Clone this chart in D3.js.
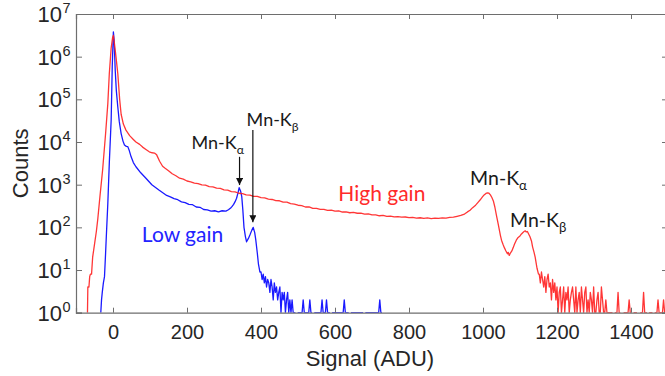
<!DOCTYPE html>
<html><head><meta charset="utf-8">
<script src="https://cdn.jsdelivr.net/npm/d3@7"></script>
<style>body{margin:0;background:#fff}svg{display:block}</style>
</head><body><svg id="c" width="665" height="376"></svg>
<script>
// ---- data ----
const xTicks = [0, 200, 400, 600, 800, 1000, 1200, 1400];
const yTickExps = [0, 1, 2, 3, 4, 5, 6, 7];

// High gain (red): smooth part, ADU and counts
const redAdu = [-69,-68,-65,-63,-61,-58,-55,-50,-45,-41,-35,-28,-20,-14,-10,-5,-1,1,4,8,13,18,22,28,35,45,55,62,72,80,90,98,106,112,118,126,134,140,
150,160,170,180,190,200,210,220,230,240,250,260,270,280,290,300,310,320,330,340,350,360,370,380,390,400,410,420,430,440,450,460,470,480,490,500,
510,520,530,540,550,560,570,580,590,600,610,620,630,640,650,660,670,680,690,700,710,720,730,740,750,760,770,780,790,800,810,820,830,840,850,860,870,880,890,900,910,920,930,940,950,
958,965,972,980,986,992,998,1003,1008,1012,1016,1020,1024,1028,1032,1037,1041,1044,1047,1050,1054,1058,1062,1066,1068,1071,1074,1078,1082,1085,1090,1095,1100,1104,1108,1111,1114,1117,1120,1124,1127,1131,1134,1138,1141,1144,1146,1150];
const redCounts = [1,4,4,7,8,8,20,40,80,160,560,2240,15800,79400,398000,1585000,2820000,3160000,2000000,1000000,398000,100000,44700,26300,19000,14100,11500,10000,8800,7600,6600,5900,5600,5500,5000,3550,2700,2450,
2120,1800,1620,1420,1350,1220,1170,1090,1060,985,975,905,885,830,815,760,745,690,675,630,620,580,570,530,530,495,490,458,450,422,420,392,390,358,352,330,
322,300,302,280,279,265,264,250,252,240,242,229,230,220,224,214,215,205,206,197,197,187,190,181,184,177,179,173,175,169,171,165,168,163,166,161,164,162,166,165,171,174,182,190,205,
230,251,290,331,380,437,510,575,625,645,630,575,500,417,300,178,120,89,65,50,40,33,28,24,26,22,25,28,34,40,50,58,63,70,76,80,83,78,80,68,60,48,35,26,20,14,11,8];
// High gain noisy tail: counts per 3-ADU bin starting at 1152 ADU
const redTailStart = 1152, redTailStep = 3;
const redTail = [8,5,9,6,4,7,3,6,8,4,5,2,6,
3,5,2,4,1,3,4,1,2,4,1,3,2,4,1,2,3,4,2,1,4,1,2,3,1,4,2,1,3,4,1,2,1,
3,2,1,4,1,1,2,3,1,1,4,2,1,1,2,1,1,1,
1,1,1,0,1,1,1,3,1,1,0,0,1,1,1,1,1,2,1,1,0,1,1,1,1,0,0,1,1,1,3,1,1,1,0,1,1,1,1,0,1,1,1,2,1,1,1,1,2,1,1,1,1];

// Low gain (blue): smooth part
const blueAdu = [-33,-31,-29,-26,-23,-20,-18,-14,-10,-5,-2,1,3,6,9,13,17,22,27,31,36,40,44,49,55,62,75,89,105,125,145,
155,165,175,185,195,205,215,225,235,245,255,265,275,285,295,305,312,318,322,326,330,334,338,341,345,348,351,354,358,361,366,370,375,379,383,386,390,393,397];
const blueCounts = [1,2,3,5,7,25,63,363,3200,32000,600000,3800000,2500000,480000,160000,66000,30000,15800,10500,8500,7900,7800,6300,4500,3300,2630,1900,1410,1000,740,560,
520,470,445,395,380,345,340,300,295,262,258,240,245,232,245,240,258,285,310,345,400,480,650,850,700,525,250,100,60,46,55,66,85,100,75,50,25,14,9];
// Low gain noisy tail: counts per 3-ADU bin starting at 400 ADU
const blueTailStart = 400, blueTailStep = 3;
const blueTail = [9,6,8,5,7,4,6,5,3,6,4,2,5,3,4,2,3,4,1,3,2,3,1,2,3,1,2,1,2,1,
1,1,0,1,1,1,1,1,2,1,1,1,1,1,2,1,1,0,1,1,1,1,1,1,1,2,1,1,1,2,1,1,1,0,1,1,1,1,1,1,1,1,1,1,1,2,1,1,1,1,
0,1,1,1,1,1,1,1,1,1,1,1,1,0,1,1,1,1,1,1,1,1,1,1,1,1,1,2,1,1];

// annotations (data coordinates of anchors)
const labels = [
  {main: "Mn-K", sub: "\u03b1", adu: 212, count: 7000, size: 18, color: "#1a1a1a"},
  {main: "Mn-K", sub: "\u03b2", adu: 361, count: 23500, size: 18, color: "#1a1a1a"},
  {main: "Mn-K", sub: "\u03b1", adu: 965, count: 980, size: 19.5, color: "#1a1a1a"},
  {main: "Mn-K", sub: "\u03b2", adu: 1073, count: 100, size: 19.5, color: "#1a1a1a"},
  {main: "High gain", sub: "", adu: 609, count: 420, size: 21, color: "#ff2a2a"},
  {main: "Low gain", sub: "", adu: 78, count: 46, size: 21, color: "#2323ff"}
];
const arrows = [
  {adu: 342, fromCount: 4500, toCount: 980},
  {adu: 378, fromCount: 19000, toCount: 132}
];

// ---- chart ----
const svg = d3.select("#c");
const L = 76, R = 668, T = 14, B = 312.7;
const x = d3.scaleLinear().domain([-100, 1500]).range([L, R]);
const y = d3.scaleLog().domain([1, 1e7]).range([B, T]);
const axisColor = "#6e6e6e", textColor = "#262626";

function buildPts(a, c) { return a.map((d, i) => [d, c[i]]); }
function tailPts(start, step, vals) { return vals.map((v, i) => [start + i * step, v]); }

const line = d3.line().defined(d => d[1] > 0).x(d => x(d[0])).y(d => y(d[1]));

const bluePts = buildPts(blueAdu, blueCounts).concat(tailPts(blueTailStart, blueTailStep, blueTail));
const redPts = buildPts(redAdu, redCounts).concat(tailPts(redTailStart, redTailStep, redTail));

const defs = svg.append("defs");
defs.append("clipPath").attr("id", "clip").append("rect").attr("x", L).attr("y", T - 5).attr("width", R - L).attr("height", B - T + 5);
defs.append("marker").attr("id", "ah").attr("viewBox", "0 0 10 10").attr("refX", 10).attr("refY", 5)
  .attr("markerWidth", 7).attr("markerHeight", 7).attr("markerUnits", "userSpaceOnUse").attr("orient", "auto")
  .append("path").attr("d", "M0,0 L10,5 L0,10 z").attr("fill", "#111");

const g = svg.append("g").attr("clip-path", "url(#clip)");
g.append("path").datum(bluePts).attr("d", line).attr("fill", "none").attr("stroke", "#1a1aff").attr("stroke-width", 1.3).attr("stroke-linejoin", "round");
g.append("path").datum(redPts).attr("d", line).attr("fill", "none").attr("stroke", "#ff2020").attr("stroke-width", 1.3).attr("stroke-linejoin", "round").attr("opacity", 0.9);

// axes
const axB = svg.append("g").attr("transform", `translate(0,${B})`)
  .call(d3.axisBottom(x).tickValues(xTicks).tickSize(-5).tickPadding(12).tickFormat(d3.format("d")));
const axT = svg.append("g").attr("transform", `translate(0,${T})`)
  .call(d3.axisTop(x).tickValues(xTicks).tickSize(-5).tickFormat(""));
const axL = svg.append("g").attr("transform", `translate(${L},0)`)
  .call(d3.axisLeft(y).tickValues(yTickExps.map(e => Math.pow(10, e))).tickSize(-6).tickFormat(""));
const axR = svg.append("g").attr("transform", `translate(${R},0)`)
  .call(d3.axisRight(y).tickValues(yTickExps.map(e => Math.pow(10, e))).tickSize(-6).tickFormat(""));
[axB, axT, axL, axR].forEach(a => {
  a.select(".domain").attr("stroke", axisColor).attr("stroke-width", 1.2);
  a.selectAll(".tick line").attr("stroke", axisColor).attr("stroke-width", 1);
});
axB.selectAll(".tick text").attr("font-family", "'Liberation Sans', Arial, sans-serif").attr("font-size", 20).attr("fill", textColor);

// y tick labels 10^n
yTickExps.forEach(e => {
  svg.append("text").attr("x", 62).attr("y", y(Math.pow(10, e)) + 8)
    .attr("text-anchor", "end").attr("font-family", "'Liberation Sans', Arial, sans-serif")
    .attr("font-size", 22).attr("fill", textColor).text("10");
  svg.append("text").attr("x", 62.5).attr("y", y(Math.pow(10, e)) - 1)
    .attr("font-family", "'Liberation Sans', Arial, sans-serif").attr("font-size", 14.5).attr("fill", textColor).text(e);
});

svg.append("text").attr("x", (L + R) / 2 - 2).attr("y", 366).attr("text-anchor", "middle")
  .attr("font-family", "'Liberation Sans', Arial, sans-serif").attr("font-size", 22).attr("fill", textColor).text("Signal (ADU)");
svg.append("text").attr("transform", `translate(28,${(T + B) / 2}) rotate(-90)`).attr("text-anchor", "middle")
  .attr("font-family", "'Liberation Sans', Arial, sans-serif").attr("font-size", 22).attr("fill", textColor).text("Counts");

// annotations
labels.forEach(l => {
  const t = svg.append("text").attr("x", x(l.adu)).attr("y", y(l.count))
    .attr("font-family", "Lato, 'Open Sans', sans-serif").attr("font-size", l.size).attr("fill", l.color);
  t.append("tspan").text(l.main);
  if (l.sub) t.append("tspan").attr("dy", 5).attr("font-size", l.size * 0.68).text(l.sub);
});
arrows.forEach(a => {
  svg.append("line").attr("x1", x(a.adu)).attr("x2", x(a.adu)).attr("y1", y(a.fromCount)).attr("y2", y(a.toCount))
    .attr("stroke", "#111").attr("stroke-width", 1.2).attr("marker-end", "url(#ah)");
});
</script></body></html>
